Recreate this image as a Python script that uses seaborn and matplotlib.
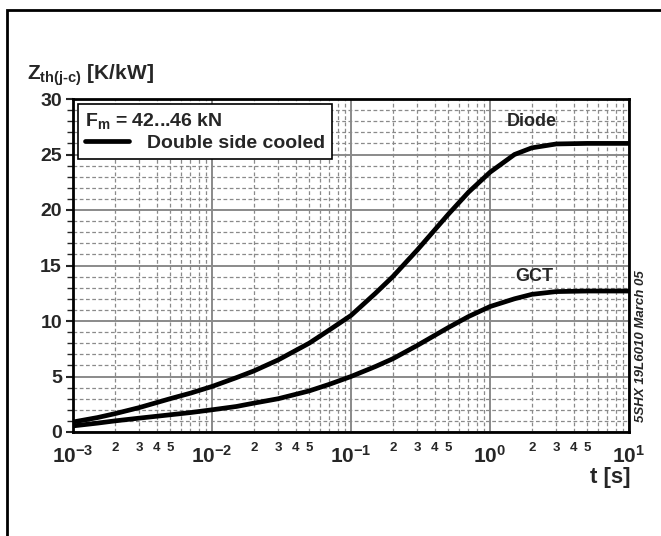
import numpy as np
import pandas as pd
import matplotlib
matplotlib.use('Agg')
import matplotlib.pyplot as plt
import matplotlib.ticker as mticker
from matplotlib.lines import Line2D
from matplotlib.patches import Rectangle
import seaborn as sns

# values
t_s = [0.001, 0.0015, 0.002, 0.003, 0.005, 0.007, 0.01, 0.015, 0.02, 0.03, 0.05, 0.07,
       0.1, 0.15, 0.2, 0.3, 0.5, 0.7, 1.0, 1.5, 2.0, 3.0, 5.0, 10.0]
diode_zth = [0.9, 1.3, 1.65, 2.2, 3.0, 3.5, 4.1, 4.9, 5.5, 6.5, 8.0, 9.2,
             10.5, 12.5, 14.0, 16.4, 19.6, 21.6, 23.4, 25.0, 25.6, 25.95, 26.0, 26.0]
gct_zth = [0.55, 0.8, 1.0, 1.25, 1.55, 1.75, 2.0, 2.3, 2.6, 3.0, 3.7, 4.3,
           5.0, 5.9, 6.6, 7.8, 9.4, 10.4, 11.3, 12.0, 12.4, 12.65, 12.7, 12.7]
minor_labels = {2: '2', 3: '3', 4: '4', 5: '5'}

sns.set_style('white')
plt.rcParams['font.family'] = ['Liberation Sans', 'DejaVu Sans']
plt.rcParams['font.weight'] = 'bold'
plt.rcParams['mathtext.fontset'] = 'custom'
plt.rcParams['mathtext.rm'] = 'Liberation Sans:bold'
plt.rcParams['mathtext.it'] = 'Liberation Sans:bold'
plt.rcParams['mathtext.bf'] = 'Liberation Sans:bold'

df = pd.concat([
    pd.DataFrame({'t': t_s, 'zth': diode_zth, 'dev': 'Diode'}),
    pd.DataFrame({'t': t_s, 'zth': gct_zth, 'dev': 'GCT'}),
])

fig = plt.figure(figsize=(6.61, 5.36), dpi=100)
ax = fig.add_axes([73/661, 1-432/536, (629-73)/661, (432-99)/536])

sns.lineplot(data=df, x='t', y='zth', hue='dev', palette=['black', 'black'],
             linewidth=3.4, legend=False, ax=ax, zorder=5)

ax.set_xscale('log')
ax.set_xlim(1e-3, 10)
ax.set_ylim(0, 30)
ax.set_xlabel('')
ax.set_ylabel('')

# grid
ax.xaxis.set_major_locator(mticker.LogLocator(base=10, numticks=10))
ax.xaxis.set_minor_locator(mticker.LogLocator(base=10, subs=np.arange(2, 10), numticks=20))
ax.yaxis.set_major_locator(mticker.MultipleLocator(5))
ax.yaxis.set_minor_locator(mticker.MultipleLocator(1))
ax.grid(which='major', color='#8a8a8a', linewidth=1.4, linestyle='-')
ax.grid(which='minor', color='#8a8a8a', linewidth=0.9, linestyle=(0, (3, 2)))
ax.set_axisbelow(True)

def major_fmt(v, pos):
    e = int(round(np.log10(v)))
    return r'$\mathrm{10^{%d}}$' % e

def minor_fmt(v, pos):
    m = v / 10 ** np.floor(np.log10(v) + 1e-9)
    k = int(round(m))
    return minor_labels.get(k, '')

ax.xaxis.set_major_formatter(mticker.FuncFormatter(major_fmt))
ax.xaxis.set_minor_formatter(mticker.FuncFormatter(minor_fmt))
ax.tick_params(axis='x', which='major', labelsize=15, direction='out', length=5, width=1.5, pad=4)
ax.tick_params(axis='x', which='minor', labelsize=9.5, direction='out', length=4, width=1, pad=3)
ax.tick_params(axis='y', which='major', labelsize=14, direction='out', length=5, width=1.5, pad=3, left=True)
ax.tick_params(axis='y', which='minor', direction='out', length=4, width=1, left=True)
for lbl in ax.get_yticklabels():
    lbl.set_fontweight('bold')

for sp in ax.spines.values():
    sp.set_visible(True)
    sp.set_color('black')
    sp.set_linewidth(2)

# legend box
leg = ax.legend(handles=[Line2D([], [], color='black', linewidth=3.4)],
                labels=['Double side cooled'],
                title=r'F$_\mathrm{m}$ = 42...46 kN',
                loc='upper left', bbox_to_anchor=(0.0, 1.0),
                frameon=True, fancybox=False, edgecolor='black',
                framealpha=1, alignment='left', borderaxespad=0.25,
                handlelength=2.3, handletextpad=0.9, borderpad=0.35,
                labelspacing=0.2, prop={'size': 14, 'weight': 'bold'}, title_fontsize=14)
leg.get_frame().set_linewidth(1.2)
leg.get_title().set_fontweight('bold')
leg.set_zorder(10)

# curve labels
ax.text(2.0, 27.2, 'Diode', fontsize=13, fontweight='bold', ha='center', va='bottom')
ax.text(2.1, 13.2, 'GCT', fontsize=13, fontweight='bold', ha='center', va='bottom')

# axis titles
fig.text(27/661, 1-75/536, r'Z$_\mathrm{th(j\text{-}c)}$ [K/kW]', fontsize=15, fontweight='bold',
         ha='left', va='center')
fig.text(630/661, 1-477/536, 't [s]', fontsize=16, fontweight='bold', ha='right', va='center')

# document id along right side
fig.text(641/661, 1-346/536, '5SHX 19L6010 March 05', rotation=90, fontsize=9.5,
         fontstyle='italic', fontweight='bold', ha='center', va='center')

# outer page frame
fig.add_artist(Rectangle((7/661, -0.2), 1.5, 1.2 - 10/536, transform=fig.transFigure,
                         fill=False, edgecolor='black', linewidth=2))

fig.savefig('out.png', dpi=100)
